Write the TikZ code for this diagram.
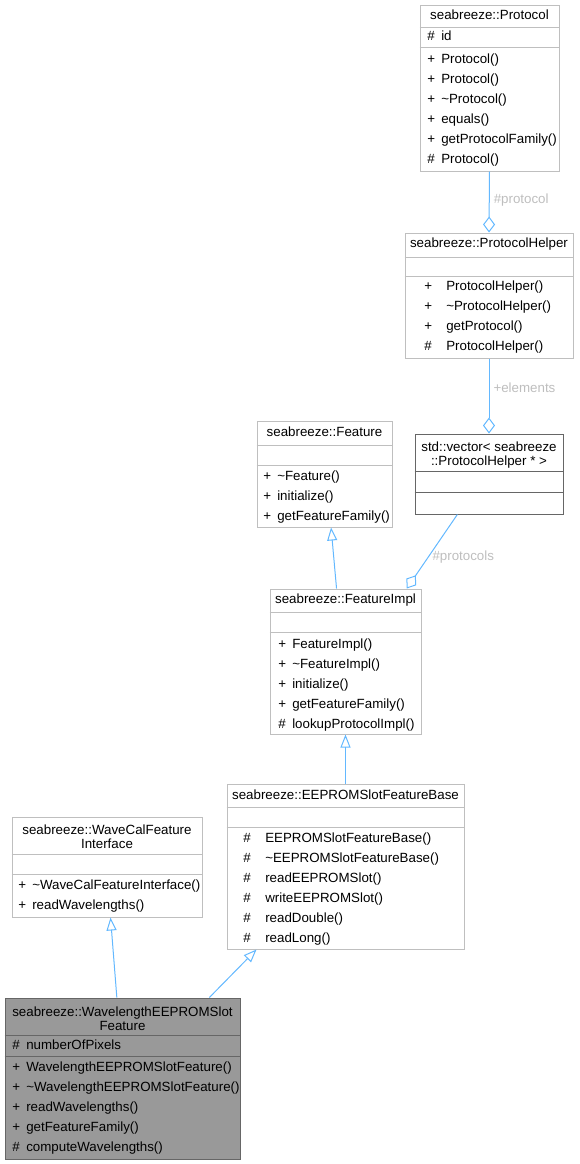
\documentclass[tikz,border=0pt]{standalone}
\usepackage{fontspec}
\setmainfont{Liberation Sans}
\usetikzlibrary{arrows.meta,fit}
\definecolor{edgeblue}{HTML}{63B8FF}
\definecolor{boxline}{HTML}{BFBFBF}
\definecolor{darkline}{HTML}{666666}
\definecolor{boxfill}{HTML}{999999}
\definecolor{labelgray}{HTML}{BEBEBE}
\newcommand{\vis}[2][10.5pt]{\makebox[#1][l]{#2}}

\begin{document}
\begin{tikzpicture}[
		x=0.75pt, y=-0.75pt,
		every node/.style={font=\fontsize{10pt}{15pt}\selectfont},
		classbox/.style={draw=boxline, line width=0.75pt, inner sep=0pt, fill=white},
		darkbox/.style={classbox, draw=darkline},
		sepline/.style={draw=boxline, line width=0.75pt},
		darksep/.style={sepline, draw=darkline},
		classtitle/.style={inner sep=0pt, align=center, font=\fontsize{10pt}{10.5pt}\selectfont},
		members/.style={anchor=west, inner sep=0pt, align=left, execute at begin node=\strut, execute at end node=\strut},
		inherit/.style={draw=edgeblue, line width=0.75pt, -{Triangle[open, length=9.75pt, width=7.5pt]}},
		aggregate/.style={draw=edgeblue, line width=0.75pt, -{Diamond[open, length=12pt, width=9pt]}},
		edgelabel/.style={text=labelgray, inner sep=3pt}
		]
		
		\useasboundingbox (0,0) rectangle (579,1164);
		
		% Protocol
		\node[classbox, fit={(420,5) (559,171)}] (protocol) {};
		\node[classtitle] (protocol-title) at (489.5,15) {seabreeze::Protocol};
		\draw[sepline] (protocol.west |- 0,27) -- (protocol.east |- 0,27);
		\node[members] (protocol-attr) at (427,36) {\vis{\#}id};
		\draw[sepline] (protocol.west |- 0,47) -- (protocol.east |- 0,47);
		\node[members] (protocol-ops) at (427,111.5) {
			\vis{+}Protocol()\\
			\vis{+}Protocol()\\
			\vis{+}\textasciitilde Protocol()\\
			\vis{+}equals()\\
			\vis{+}getProtocolFamily()\\
			\vis{\#}Protocol()
		};
		
		% ProtocolHelper
		\node[classbox, fit={(405,233) (573,358)}] (helper) {};
		\node[classtitle] (helper-title) at (489,244) {seabreeze::ProtocolHelper};
		\draw[sepline] (helper.west |- 0,257) -- (helper.east |- 0,257);
		\draw[sepline] (helper.west |- 0,276) -- (helper.east |- 0,276);
		\node[members] (helper-ops) at (424,318.5) {
			\vis[16.5pt]{+}ProtocolHelper()\\
			\vis[16.5pt]{+}\textasciitilde ProtocolHelper()\\
			\vis[16.5pt]{+}getProtocol()\\
			\vis[16.5pt]{\#}ProtocolHelper()
		};
		
		% std::vector
		\node[darkbox, fit={(415,434) (563,514)}] (vector) {};
		\node[classtitle] (vector-title) at (489,455) {std::vector< seabreeze\\::ProtocolHelper * >};
		\draw[darksep] (vector.west |- 0,471) -- (vector.east |- 0,471);
		\draw[darksep] (vector.west |- 0,492) -- (vector.east |- 0,492);
		
		% Feature
		\node[classbox, fit={(257,421) (392,527)}] (feature) {};
		\node[classtitle] (feature-title) at (324.5,432) {seabreeze::Feature};
		\draw[sepline] (feature.west |- 0,445) -- (feature.east |- 0,445);
		\draw[sepline] (feature.west |- 0,465) -- (feature.east |- 0,465);
		\node[members] (feature-ops) at (263,498.5) {
			\vis{+}\textasciitilde Feature()\\
			\vis{+}initialize()\\
			\vis{+}getFeatureFamily()
		};
		
		% FeatureImpl
		\node[classbox, fit={(270,589) (421,734)}] (impl) {};
		\node[classtitle] (impl-title) at (345.5,600) {seabreeze::FeatureImpl};
		\draw[sepline] (impl.west |- 0,612) -- (impl.east |- 0,612);
		\draw[sepline] (impl.west |- 0,632) -- (impl.east |- 0,632);
		\node[members] (impl-ops) at (278,687) {
			\vis{+}FeatureImpl()\\
			\vis{+}\textasciitilde FeatureImpl()\\
			\vis{+}initialize()\\
			\vis{+}getFeatureFamily()\\
			\vis{\#}lookupProtocolImpl()
		};
		
		% EEPROMSlotFeatureBase
		\node[classbox, fit={(227,784) (464,949)}] (slotbase) {};
		\node[classtitle] (slotbase-title) at (345.5,795) {seabreeze::EEPROMSlotFeatureBase};
		\draw[sepline] (slotbase.west |- 0,807) -- (slotbase.east |- 0,807);
		\draw[sepline] (slotbase.west |- 0,827) -- (slotbase.east |- 0,827);
		\node[members] (slotbase-ops) at (243,890.5) {
			\vis[16.5pt]{\#}EEPROMSlotFeatureBase()\\
			\vis[16.5pt]{\#}\textasciitilde EEPROMSlotFeatureBase()\\
			\vis[16.5pt]{\#}readEEPROMSlot()\\
			\vis[16.5pt]{\#}writeEEPROMSlot()\\
			\vis[16.5pt]{\#}readDouble()\\
			\vis[16.5pt]{\#}readLong()
		};
		
		% WaveCalFeatureInterface
		\node[classbox, fit={(12,817) (202,917)}] (wavecal) {};
		\node[classtitle] (wavecal-title) at (107,837) {seabreeze::WaveCalFeature\\Interface};
		\draw[sepline] (wavecal.west |- 0,854) -- (wavecal.east |- 0,854);
		\draw[sepline] (wavecal.west |- 0,874) -- (wavecal.east |- 0,874);
		\node[members] (wavecal-ops) at (18,898) {
			\vis{+}\textasciitilde WaveCalFeatureInterface()\\
			\vis{+}readWavelengths()
		};
		
		% WavelengthEEPROMSlotFeature
		\node[darkbox, fill=boxfill, fit={(5,998) (240,1159)}] (wavelength) {};
		\node[classtitle] (wavelength-title) at (122.5,1019) {seabreeze::WavelengthEEPROMSlot\\Feature};
		\draw[darksep] (wavelength.west |- 0,1035) -- (wavelength.east |- 0,1035);
		\node[members] (wavelength-attr) at (12,1045) {\vis{\#}numberOfPixels};
		\draw[darksep] (wavelength.west |- 0,1056) -- (wavelength.east |- 0,1056);
		\node[members] (wavelength-ops) at (12,1109.5) {
			\vis{+}WavelengthEEPROMSlotFeature()\\
			\vis{+}\textasciitilde WavelengthEEPROMSlotFeature()\\
			\vis{+}readWavelengths()\\
			\vis{+}getFeatureFamily()\\
			\vis{\#}computeWavelengths()
		};
		
		% relations
		\draw[aggregate] (protocol.south) -- node[edgelabel, right, pos=0.47] {\#protocol} (helper.north);
		\draw[aggregate] (helper.south) -- node[edgelabel, right, pos=0.39] {+elements} (vector.north);
		\draw[aggregate] (vector.232) -- node[edgelabel, right, pos=0.58] {\#protocols} (impl.50.6);
		\draw[inherit] (impl.97.5) -- (feature.277);
		\draw[inherit] (slotbase.north) -- (impl.south);
		\draw[inherit] (wavelength.94.6) -- (wavecal.274.6);
		\draw[inherit] (wavelength.43.6) -- (slotbase.223);
	\end{tikzpicture}
\end{document}
